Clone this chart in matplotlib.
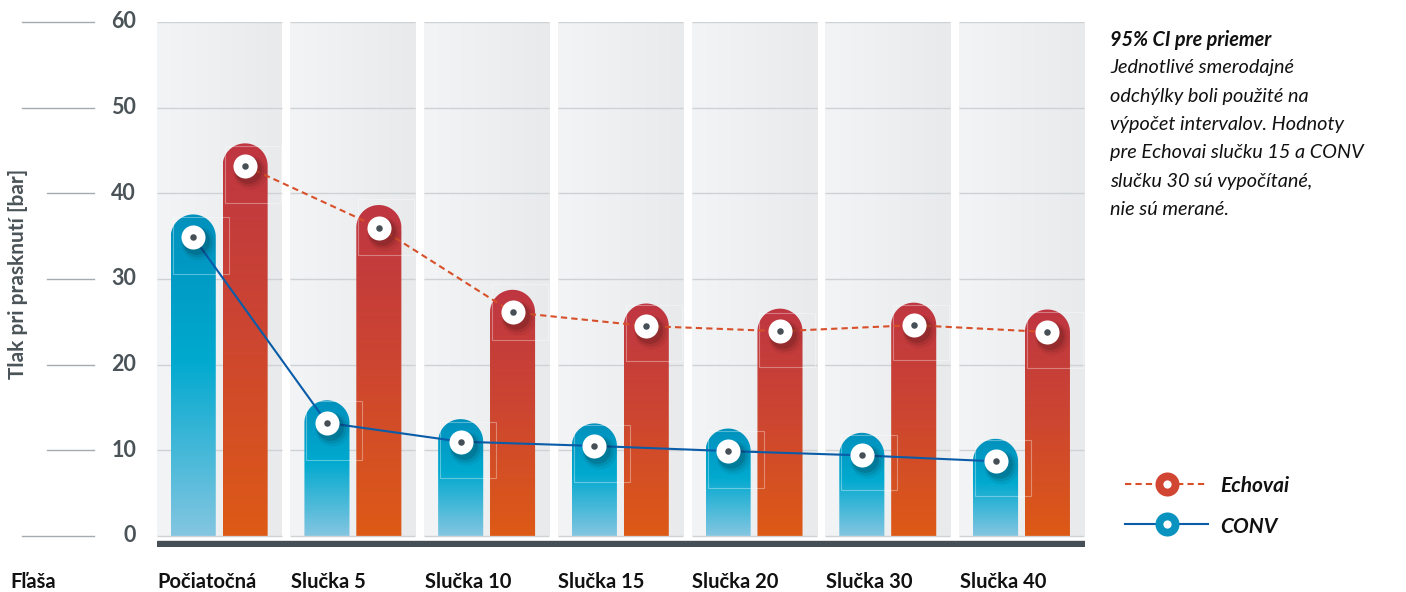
import numpy as np
import matplotlib.pyplot as plt
from matplotlib.path import Path
from matplotlib.patches import PathPatch, Rectangle
from matplotlib.colors import LinearSegmentedColormap
import matplotlib.transforms as mtransforms

plt.rcParams['font.family'] = ['Lato', 'DejaVu Sans']

# data
categories = ['Počiatočná', 'Slučka 5', 'Slučka 10', 'Slučka 15', 'Slučka 20', 'Slučka 30', 'Slučka 40']
echovai = [43.2, 36.0, 26.1, 24.5, 23.9, 24.6, 23.8]
conv = [34.9, 13.2, 11.0, 10.5, 9.9, 9.4, 8.7]
echovai_lo = [38.9, 32.8, 22.9, 20.4, 19.7, 20.5, 19.6]
echovai_hi = [45.5, 39.3, 29.4, 26.9, 26.0, 27.0, 26.1]
conv_lo = [30.6, 8.9, 6.8, 6.3, 5.6, 5.3, 4.7]
conv_hi = [37.2, 15.7, 13.3, 13.0, 12.2, 11.8, 11.2]
yticks = [0, 10, 20, 30, 40, 50, 60]

note_title = '95% CI pre priemer'
note_lines = ['Jednotlivé smerodajné', 'odchýlky boli použité na', 'výpočet intervalov. Hodnoty',
              'pre Echovai slučku 15 a CONV', 'slučku 30 sú vypočítané,', 'nie sú merané.']

W, H = 1406, 592
fig = plt.figure(figsize=(W / 100, H / 100), dpi=100)
ax = fig.add_axes([157 / W, 1 - 547 / H, 928 / W, (547 - 22) / H])

n = len(categories)
x = np.arange(n)
panel_w = 0.935
bar_w = 0.337
off = 0.194
ax.set_xlim(-0.465, n - 1 + 0.475)
ax.set_ylim(-1.3, 60)
ax.axis('off')

dark = '#454f55'
txt_gray = '#4a5358'

# panel backgrounds + grid
bg = np.linspace(0, 1, 50).reshape(1, -1)
bg_cmap = LinearSegmentedColormap.from_list('bg', ['#f3f4f5', '#e8eaeb'])
for i in x:
    ax.imshow(bg, extent=[i - panel_w / 2, i + panel_w / 2, 0, 60], aspect='auto',
              cmap=bg_cmap, zorder=0, interpolation='bicubic')
    ax.hlines(yticks, i - panel_w / 2, i + panel_w / 2, color='#cfd2d4', lw=1, zorder=1)
ax.axhspan(-1.3, -0.55, xmin=0, xmax=1, color=dark, zorder=1)

# margin tick lines and labels
tr = mtransforms.blended_transform_factory(ax.transAxes, ax.transData)
for t in yticks:
    x0 = -0.1455 if t in (0, 50, 60) else -0.118
    ax.plot([x0, -0.0679], [t, t], color='#a3abaf', lw=1, transform=tr, clip_on=False)
    ax.text(-0.0226, t, str(t), transform=tr, ha='right', va='center',
            fontsize=15.5, fontweight='bold', color=txt_gray)

ax.figure.canvas.draw()
# pixel scale to make round caps
p = ax.transData.transform([(0, 0), (bar_w / 2, 1)])
ry_units = (p[1, 0] - p[0, 0]) / (p[1, 1] - p[0, 1])

conv_cmap = LinearSegmentedColormap.from_list('cv', [(0, '#84c6e1'), (0.55, '#00a9cf'), (1, '#0091bd')])
echo_cmap = LinearSegmentedColormap.from_list('ec', [(0, '#dd5a16'), (0.5, '#cd4630'), (1, '#bf3642')])
grad = np.linspace(0, 1, 256).reshape(-1, 1)


def rounded_bar(xc, v, cmap):
    x0, x1 = xc - bar_w / 2, xc + bar_w / 2
    th = np.linspace(np.pi, 0, 40)
    verts = [(x0, 0), (x0, v)]
    verts += list(zip(xc + bar_w / 2 * np.cos(th), v + ry_units * np.sin(th)))
    verts += [(x1, 0), (x0, 0)]
    codes = [Path.MOVETO] + [Path.LINETO] * (len(verts) - 2) + [Path.CLOSEPOLY]
    patch = PathPatch(Path(verts, codes), facecolor='none', edgecolor='none')
    ax.add_patch(patch)
    im = ax.imshow(grad, extent=[x0, x1, 0, v + ry_units], origin='lower', aspect='auto',
                   cmap=cmap, zorder=2, interpolation='bicubic')
    im.set_clip_path(patch)


for i in x:
    rounded_bar(i - off, conv[i], conv_cmap)
    rounded_bar(i + off, echovai[i], echo_cmap)

# CI boxes (faint)
box_w = 0.419
for i in x:
    for xc, lo, hi in ((i - off, conv_lo[i], conv_hi[i]), (i + off, echovai_lo[i], echovai_hi[i])):
        ax.add_patch(Rectangle((xc - bar_w / 2 + 0.015, lo), box_w, hi - lo, fill=False,
                               edgecolor='white', alpha=0.35, lw=0.8, zorder=3))

# lines
ax.plot(x - off, conv, color='#0a5ca8', lw=1.5, zorder=4)
ax.plot(x + off, echovai, color='#d8502a', lw=1.5, ls=(0, (3, 2)), zorder=4)

# markers with shadow
for dx, dy, s, a in ((5, -6, 600, 0.05), (4, -5, 470, 0.08), (3, -4, 370, 0.12)):
    sh = mtransforms.offset_copy(ax.transData, fig=fig, x=dx, y=dy, units='dots')
    ax.scatter(x - off, conv, s=s, color='black', alpha=a, lw=0, zorder=5, transform=sh)
    ax.scatter(x + off, echovai, s=s, color='black', alpha=a, lw=0, zorder=5, transform=sh)
ax.scatter(x - off, conv, s=300, color='white', lw=0, zorder=6)
ax.scatter(x + off, echovai, s=300, color='white', lw=0, zorder=6)
ax.scatter(x - off, conv, s=22, color=dark, lw=0, zorder=7)
ax.scatter(x + off, echovai, s=22, color=dark, lw=0, zorder=7)

# category labels
lab_tr = mtransforms.blended_transform_factory(ax.transData, fig.transFigure)
for i, c in enumerate(categories):
    ax.text(i - panel_w / 2 + 0.005, 1 - 582 / H, c, transform=lab_tr,
            ha='left', va='center', fontsize=14.5, fontweight='bold', color='#111111')
fig.text(10 / W, 1 - 582 / H, 'Fľaša', ha='left', va='center', fontsize=14.5, fontweight='bold', color='#111111')

# y label
fig.text(18 / W, 1 - 274 / H, 'Tlak pri prasknutí [bar]', rotation=90, ha='center', va='center',
         fontsize=15, fontweight='bold', color=txt_gray)

# note
fig.text(1110 / W, 1 - 40 / H, note_title, ha='left', va='center', fontsize=14.3,
         fontweight='bold', style='italic', color='#111111')
for k, line in enumerate(note_lines):
    fig.text(1110 / W, 1 - (68 + 28.3 * k) / H, line, ha='left', va='center', fontsize=14.3,
             style='italic', color='#111111')

# legend
lax = fig.add_axes([0, 0, 1, 1], facecolor='none')
lax.set_xlim(0, W)
lax.set_ylim(H, 0)
lax.axis('off')
lax.plot([1125, 1208], [484, 484], color='#d8502a', lw=1.5, ls=(0, (3, 2)))
lax.scatter([1167], [484], s=300, color='#d14632', lw=0, zorder=3)
lax.scatter([1167], [484], s=35, color='white', lw=0, zorder=4)
lax.text(1220, 486, 'Echovai', ha='left', va='center', fontsize=15, fontweight='bold', style='italic', color='#111111')
lax.plot([1125, 1208], [524, 524], color='#0a5ca8', lw=1.5)
lax.scatter([1167], [524], s=300, color='#0b93bf', lw=0, zorder=3)
lax.scatter([1167], [524], s=35, color='white', lw=0, zorder=4)
lax.text(1220, 527, 'CONV', ha='left', va='center', fontsize=15, fontweight='bold', style='italic', color='#111111')

fig.savefig('out.png', dpi=100)
